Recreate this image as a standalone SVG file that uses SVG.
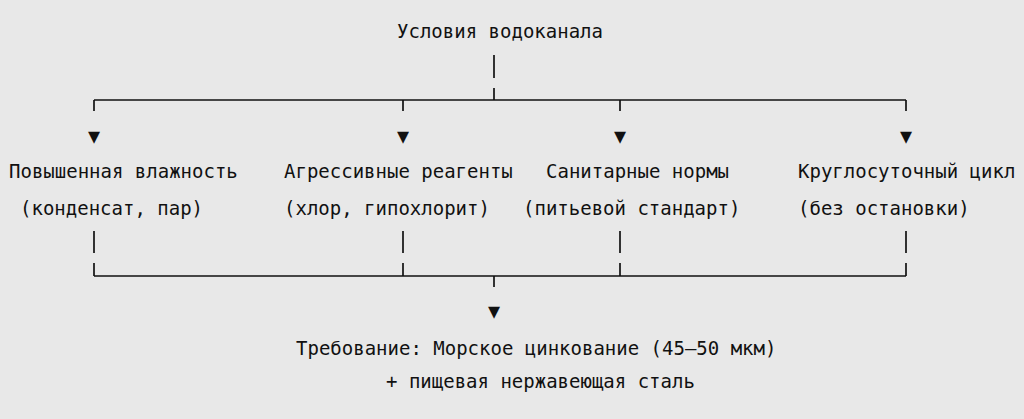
<svg xmlns="http://www.w3.org/2000/svg" width="1024" height="419" viewBox="0 0 1024 419">
<style>
text{font-family:"DejaVu Sans Mono","Liberation Mono",monospace;font-size:19px;fill:#111}
.c{text-anchor:middle}
line{stroke:#111;stroke-width:1.7}
.a{font-size:20px}
</style>
<rect width="1024" height="419" fill="#e8e8e8"/>
<g id="root"><text class="c" x="500" y="38">Условия водоканала</text></g>
<g id="connectors">
<line x1="494" y1="55" x2="494" y2="78"/>
<line x1="494" y1="88" x2="494" y2="100"/>
<line x1="94" y1="100" x2="906" y2="100"/>
<line x1="94" y1="100" x2="94" y2="111"/>
<line x1="403" y1="100" x2="403" y2="111"/>
<line x1="620" y1="100" x2="620" y2="111"/>
<line x1="906" y1="100" x2="906" y2="111"/>
<text class="c a" x="94" y="143">▼</text>
<text class="c a" x="403" y="143">▼</text>
<text class="c a" x="620" y="143">▼</text>
<text class="c a" x="906" y="143">▼</text>
<line x1="94" y1="231" x2="94" y2="253"/>
<line x1="403" y1="231" x2="403" y2="253"/>
<line x1="620" y1="231" x2="620" y2="253"/>
<line x1="906" y1="231" x2="906" y2="253"/>
<line x1="94" y1="263" x2="94" y2="276"/>
<line x1="403" y1="263" x2="403" y2="276"/>
<line x1="620" y1="263" x2="620" y2="276"/>
<line x1="906" y1="263" x2="906" y2="276"/>
<line x1="94" y1="276" x2="906" y2="276"/>
<line x1="494" y1="276" x2="494" y2="287"/>
<text class="c a" x="494" y="318">▼</text>
</g>
<g id="n1"><text x="9" y="178">Повышенная влажность</text><text x="20" y="215">(конденсат, пар)</text></g>
<g id="n2"><text x="284" y="178">Агрессивные реагенты</text><text x="284" y="215">(хлор, гипохлорит)</text></g>
<g id="n3"><text x="546" y="178">Санитарные нормы</text><text x="523" y="215">(питьевой стандарт)</text></g>
<g id="n4"><text x="798" y="178">Круглосуточный цикл</text><text x="798" y="215">(без остановки)</text></g>
<g id="result"><text x="296" y="355">Требование: Морское цинкование (45–50 мкм)</text><text x="386" y="388">+ пищевая нержавеющая сталь</text></g>
</svg>
